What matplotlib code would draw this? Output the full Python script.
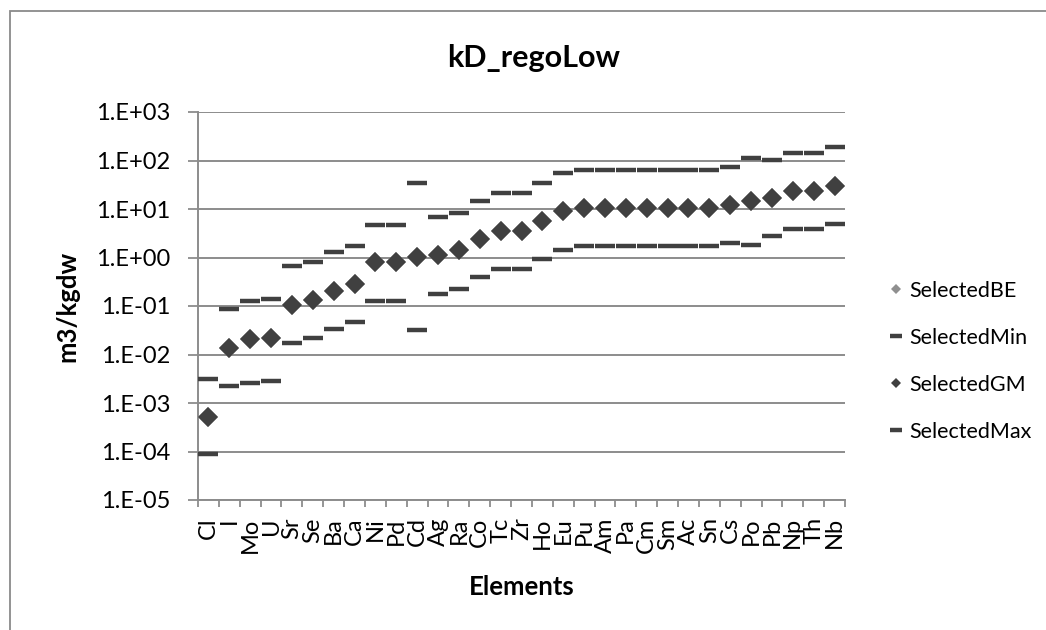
import numpy as np
import matplotlib
matplotlib.use("Agg")
import matplotlib.pyplot as plt
from matplotlib.patches import Rectangle
from matplotlib.ticker import FixedLocator, FuncFormatter, NullFormatter

# ======================
# DATA
# ======================
elements = ["Cl", "I", "Mo", "U", "Sr", "Se", "Ba", "Ca", "Ni", "Pd",
            "Cd", "Ag", "Ra", "Co", "Tc", "Zr", "Ho", "Eu", "Pu", "Am",
            "Pa", "Cm", "Sm", "Ac", "Sn", "Cs", "Po", "Pb", "Np", "Th", "Nb"]

selected_min = [9e-5, 2.26e-3, 2.57e-3, 2.83e-3, 0.0172, 0.0217, 0.0334, 0.0472,
                0.126, 0.126, 0.0318, 0.178, 0.223, 0.40, 0.575, 0.575, 0.925,
                1.42, 1.74, 1.74, 1.74, 1.74, 1.74, 1.74, 1.74, 1.98, 1.8, 2.76,
                3.85, 3.85, 4.88]

selected_gm = [5.2e-4, 0.0139, 0.0207, 0.0214, 0.106, 0.134, 0.206, 0.283,
               0.789, 0.789, 1.03, 1.12, 1.42, 2.46, 3.55, 3.55, 5.71, 9.18,
               10.4, 10.4, 10.4, 10.4, 10.4, 10.4, 10.4, 12.2, 14.8, 16.8,
               23.0, 23.0, 30.0]

# best estimate is hidden under the geometric mean
selected_be = list(selected_gm)

selected_max = [3.2e-3, 0.0875, 0.126, 0.139, 0.674, 0.815, 1.29, 1.72,
                4.66, 4.66, 34.2, 6.9, 8.2, 14.6, 21.3, 21.3, 34.2, 55.0,
                63.4, 63.4, 63.4, 63.4, 63.4, 63.4, 63.4, 73.0, 110.0, 102.0,
                142.0, 142.0, 189.0]

# ======================
# STYLE
# ======================
plt.rcParams['font.family'] = ['Lato', 'DejaVu Sans']
dark = "#404040"
grid_col = "#8c8c8c"
W, H = 1046, 630

fig = plt.figure(figsize=(W / 100, H / 100), dpi=100)
ax = fig.add_axes([198 / W, 1 - 500 / H, 647 / W, 388 / H])

x = np.arange(len(elements))

l_be, = ax.plot(x, selected_be, linestyle="none", marker="D", color="#8f8f8f",
                markersize=10, markeredgewidth=0, label="SelectedBE", zorder=3)
l_min, = ax.plot(x, selected_min, linestyle="none", marker="_", color=dark,
                 markersize=15, markeredgewidth=3.2, label="SelectedMin", zorder=4)
l_gm, = ax.plot(x, selected_gm, linestyle="none", marker="D", color=dark,
                markersize=10, markeredgewidth=0, label="SelectedGM", zorder=5)
l_max, = ax.plot(x, selected_max, linestyle="none", marker="_", color=dark,
                 markersize=15, markeredgewidth=3.2, label="SelectedMax", zorder=4)

ax.set_yscale("log")
ax.set_ylim(1e-5, 1e3)
ax.set_xlim(-0.5, len(elements) - 0.5)

# y axis
ax.yaxis.set_major_locator(FixedLocator([10.0 ** e for e in range(-5, 4)]))
ax.yaxis.set_minor_locator(FixedLocator([]))
ax.yaxis.set_major_formatter(FuncFormatter(lambda v, p: f"1.E{int(round(np.log10(v))):+03d}"))
ax.grid(True, axis="y", color=grid_col, linewidth=1.4)
ax.set_axisbelow(True)

# x axis: ticks between categories, labels at centres
ax.xaxis.set_major_locator(FixedLocator(np.arange(-0.5, len(elements), 1.0)))
ax.xaxis.set_major_formatter(NullFormatter())
ax.xaxis.set_minor_locator(FixedLocator(x))
ax.set_xticklabels(elements, minor=True, rotation=90)
ax.tick_params(axis="x", which="minor", length=0, labelsize=17, pad=12.5)
ax.tick_params(axis="x", which="major", length=5, width=1.3, color=grid_col, direction="out")
ax.tick_params(axis="y", which="major", length=7, width=1.3, color=grid_col,
               labelsize=17, pad=13)

for side in ["top", "right"]:
    ax.spines[side].set_visible(False)
for side in ["left", "bottom"]:
    ax.spines[side].set_color(grid_col)
    ax.spines[side].set_linewidth(1.4)

# titles
fig.text(534 / W, 1 - 58 / H, "kD_regoLow", fontsize=22, fontweight="bold",
         ha="center", va="center")
fig.text(522 / W, 1 - 595 / H, "Elements", fontsize=18.5, fontweight="bold",
         ha="center", va="baseline")
fig.text(67 / W, 1 - 306 / H, "m3/kgdw", fontsize=18.5, fontweight="bold",
         ha="center", va="center", rotation=90)

leg = fig.legend(handles=[l_be, l_min, l_gm, l_max], loc="upper left",
                 bbox_to_anchor=(889.5 / W, 1 - 281 / H), frameon=False,
                 fontsize=15.5, markerscale=0.55, handlelength=0.6,
                 handletextpad=0.3, labelspacing=1.25, borderpad=0,
                 borderaxespad=0)

# chart border (right and bottom edges fall outside the picture)
fig.patches.append(Rectangle((10 / W, -0.1), 1.2, 1 - 11 / H + 0.1,
                             transform=fig.transFigure, fill=False,
                             edgecolor="#8a8a8a", linewidth=1.3))

fig.savefig("out.png", dpi=100)
